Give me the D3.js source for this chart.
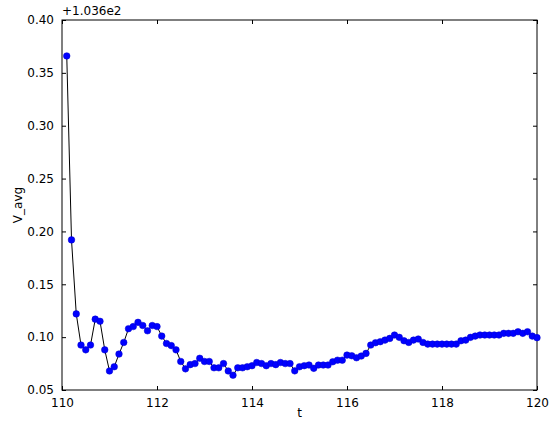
<!DOCTYPE html>
<html>
<head>
<meta charset="utf-8">
<script src="https://cdn.jsdelivr.net/npm/d3@7"></script>
<style>
  body { margin: 0; background: #fff; }
  text { font-family: "DejaVu Sans", sans-serif; }
</style>
</head>
<body>
<div id="container"></div>
<script>
// values are offsets from 103.6 (matplotlib "+1.036e2")
const vFirst = [0.366, 0.192, 0.122, 0.0925, 0.088, 0.0925, 0.117, 0.115, 0.088, 0.068,
  0.072, 0.084, 0.095, 0.108, 0.110, 0.114, 0.111, 0.106, 0.111, 0.110,
  0.101, 0.094, 0.092, 0.088, 0.077, 0.070, 0.074, 0.075, 0.080, 0.077,
  0.077, 0.071, 0.071, 0.075, 0.068, 0.064, 0.071, 0.071, 0.072, 0.073,
  0.076, 0.075, 0.073, 0.075, 0.074, 0.076, 0.075, 0.075];
const vSecond = [0.0681, 0.0720, 0.0730, 0.0736, 0.0705, 0.0736, 0.0736, 0.0736, 0.0767, 0.0782,
  0.0782, 0.0830, 0.0824, 0.0805, 0.0821, 0.0846, 0.0925, 0.0947, 0.0957, 0.0972,
  0.0988, 0.1020, 0.0998, 0.0966, 0.0950, 0.0972, 0.0982, 0.0950, 0.0934, 0.0934,
  0.0934, 0.0934, 0.0934, 0.0934, 0.0934, 0.0966, 0.0972, 0.0998, 0.1010, 0.1020,
  0.1020, 0.1020, 0.1020, 0.1020, 0.1036, 0.1036, 0.1036, 0.1051, 0.1036, 0.1051,
  0.1010, 0.0995];
const values = vFirst.concat(vSecond);
const tValues = values.map((v, i) => +(110.1 + i * 0.1).toFixed(1));

const xTicks = [110, 112, 114, 116, 118, 120];
const yTicks = [0.05, 0.10, 0.15, 0.20, 0.25, 0.30, 0.35, 0.40];

const width = 557, height = 423;
const plot = { left: 62, right: 537, top: 20, bottom: 390 };

const svg = d3.select('#container').append('svg')
  .attr('width', width).attr('height', height);

const x = d3.scaleLinear().domain([110, 120]).range([plot.left, plot.right]);
const y = d3.scaleLinear().domain([0.05, 0.40]).range([plot.bottom, plot.top]);

// ticks inward on all four sides
const axes = [
  { ax: d3.axisBottom(x).tickValues(xTicks).tickFormat(d3.format('d')), ty: plot.bottom, tx: 0 },
  { ax: d3.axisTop(x).tickValues(xTicks).tickFormat(''), ty: plot.top, tx: 0 },
  { ax: d3.axisLeft(y).tickValues(yTicks).tickFormat(d3.format('.2f')), ty: 0, tx: plot.left },
  { ax: d3.axisRight(y).tickValues(yTicks).tickFormat(''), ty: 0, tx: plot.right }
];
axes.forEach(a => {
  const g = svg.append('g')
    .attr('transform', 'translate(' + a.tx + ',' + a.ty + ')')
    .call(a.ax.tickSizeInner(-4).tickSizeOuter(0).tickPadding(8));
  g.select('.domain').remove();
  g.selectAll('line').attr('stroke', '#000');
  g.selectAll('text').attr('font-size', 12).attr('fill', '#000');
});

svg.append('rect')
  .attr('x', plot.left).attr('y', plot.top)
  .attr('width', plot.right - plot.left).attr('height', plot.bottom - plot.top)
  .attr('fill', 'none').attr('stroke', '#000').attr('stroke-width', 1);

const line = d3.line().x((d, i) => x(tValues[i])).y(d => y(d));
svg.append('path').datum(values)
  .attr('d', line).attr('fill', 'none').attr('stroke', '#000').attr('stroke-width', 1);

svg.selectAll('circle').data(values).enter().append('circle')
  .attr('cx', (d, i) => x(tValues[i])).attr('cy', d => y(d))
  .attr('r', 3.3).attr('fill', '#0000ff').attr('stroke', '#0000cc').attr('stroke-width', 0.5);

svg.append('text').attr('x', plot.left).attr('y', 15)
  .attr('font-size', 12).text('+1.036e2');

svg.append('text').attr('x', (plot.left + plot.right) / 2).attr('y', 417)
  .attr('text-anchor', 'middle').attr('font-size', 12).text('t');

svg.append('text').attr('transform', 'rotate(-90)')
  .attr('x', -(plot.top + plot.bottom) / 2).attr('y', 22)
  .attr('text-anchor', 'middle').attr('font-size', 12).text('V_avg');
</script>
</body>
</html>
